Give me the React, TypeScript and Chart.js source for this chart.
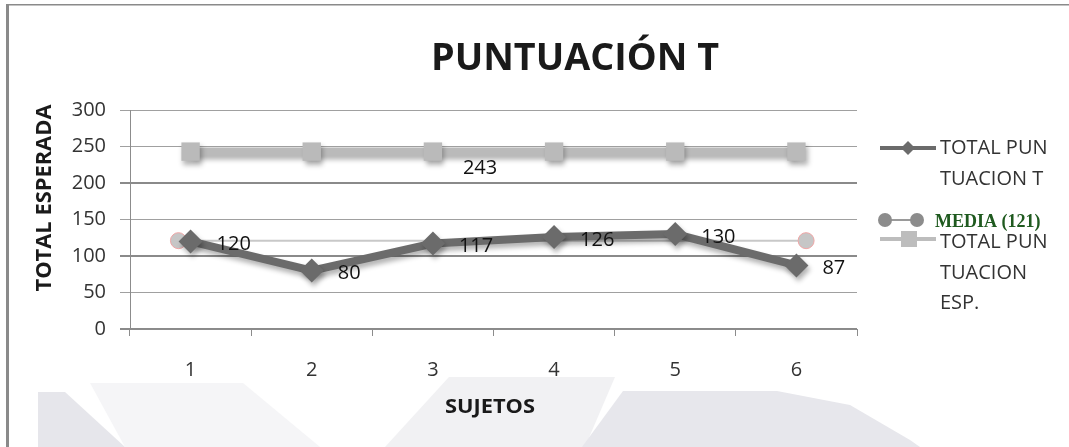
import React, { useEffect, useRef } from "react";
import { Chart, registerables } from "chart.js";

Chart.register(...registerables);

const categories = ["1", "2", "3", "4", "5", "6"];
const totalPuntuacionT = [120, 80, 117, 126, 130, 87];
const totalPuntuacionEsp = [243, 243, 243, 243, 243, 243];
const mediaPositions = [0.9, 6.08];
const mediaValue = 121;
const yTicks = [0, 50, 100, 150, 200, 250, 300];
const titleText = "PUNTUACIÓN T";
const yTitle = "TOTAL ESPERADA";
const xTitle = "SUJETOS";
const legendT = ["TOTAL PUN", "TUACION T"];
const legendMedia = "MEDIA (121)";
const legendEsp = ["TOTAL PUN", "TUACION", "ESP."];

const SANS = "'Open Sans', 'DejaVu Sans', sans-serif";

const decorPlugin = {
  id: "decor",
  beforeDraw(chart: any) {
    const ctx = chart.ctx;
    ctx.save();
    ctx.fillStyle = "#ffffff";
    ctx.fillRect(0, 0, chart.width, chart.height);
    const polys: [string, number[][]][] = [
      ["#e6e6eb", [[38, 392], [65, 392], [125, 447], [38, 447]]],
      ["#f5f5f7", [[90, 383], [243, 383], [320, 447], [125, 447]]],
      ["#f1f1f3", [[449, 377], [615, 377], [585, 447], [385, 447]]],
      ["#e7e7ec", [[623, 391], [777, 391], [850, 405], [910, 440], [920, 447], [582, 447]]],
    ];
    for (const [c, pts] of polys) {
      ctx.fillStyle = c;
      ctx.beginPath();
      pts.forEach((p, i) => (i ? ctx.lineTo(p[0], p[1]) : ctx.moveTo(p[0], p[1])));
      ctx.closePath();
      ctx.fill();
    }
    ctx.fillStyle = "#8a8a8a";
    ctx.fillRect(6, 4, chart.width - 6, 1.5);
    ctx.fillRect(6, 4, 3, chart.height - 4);
    ctx.restore();
  },
  beforeDatasetDraw(chart: any, args: any) {
    const ctx = chart.ctx;
    ctx.save();
    if (args.index !== 1) {
      ctx.shadowColor = "rgba(0,0,0,0.3)";
      ctx.shadowBlur = 5;
      ctx.shadowOffsetX = 2;
      ctx.shadowOffsetY = 4;
    }
  },
  afterDatasetDraw(chart: any) {
    chart.ctx.restore();
  },
  afterDraw(chart: any) {
    const ctx = chart.ctx;
    ctx.save();
    // Title
    ctx.fillStyle = "#1a1a1a";
    ctx.font = `bold 38px ${SANS}`;
    ctx.textBaseline = "alphabetic";
    const w = ctx.measureText(titleText).width;
    ctx.save();
    ctx.translate(431, 70);
    ctx.scale(288 / w, 1);
    ctx.textAlign = "left";
    ctx.fillText(titleText, 0, 0);
    ctx.restore();

    // Y title
    ctx.save();
    ctx.font = `bold 21px ${SANS}`;
    const wy = ctx.measureText(yTitle).width;
    ctx.translate(45, 198);
    ctx.rotate(-Math.PI / 2);
    ctx.scale(187 / wy, 1);
    ctx.textAlign = "center";
    ctx.textBaseline = "middle";
    ctx.fillText(yTitle, 0, 0);
    ctx.restore();

    // X title
    ctx.save();
    ctx.font = `bold 19px ${SANS}`;
    const wx = ctx.measureText(xTitle).width;
    ctx.translate(490, 408);
    ctx.scale(90 / wx, 1);
    ctx.textAlign = "center";
    ctx.textBaseline = "middle";
    ctx.fillText(xTitle, 0, 0);
    ctx.restore();

    // Data labels
    ctx.font = `20px ${SANS}`;
    ctx.fillStyle = "#111111";
    ctx.textAlign = "left";
    ctx.textBaseline = "middle";
    const m0 = chart.getDatasetMeta(0);
    m0.data.forEach((pt: any, i: number) => {
      ctx.fillText(String(totalPuntuacionT[i]), pt.x + 26, pt.y + 3);
    });
    const m2 = chart.getDatasetMeta(2);
    const p3 = m2.data[2];
    ctx.fillText(String(totalPuntuacionEsp[2]), p3.x + 30, p3.y + 17);

    // Legend
    ctx.font = `20px ${SANS}`;
    ctx.strokeStyle = "#6b6b6b";
    ctx.lineWidth = 4;
    ctx.beginPath();
    ctx.moveTo(880, 148);
    ctx.lineTo(936, 148);
    ctx.stroke();
    ctx.fillStyle = "#6b6b6b";
    ctx.beginPath();
    ctx.moveTo(908, 141);
    ctx.lineTo(915, 148);
    ctx.lineTo(908, 155);
    ctx.lineTo(901, 148);
    ctx.closePath();
    ctx.fill();
    ctx.fillStyle = "#333333";
    ctx.fillText(legendT[0], 940, 148);
    ctx.fillText(legendT[1], 940, 179);
    // media
    ctx.strokeStyle = "#9a9a9a";
    ctx.lineWidth = 2;
    ctx.beginPath();
    ctx.moveTo(885, 220);
    ctx.lineTo(917, 220);
    ctx.stroke();
    ctx.fillStyle = "#8c8c8c";
    [885, 917].forEach((cx) => {
      ctx.beginPath();
      ctx.arc(cx, 220, 7, 0, Math.PI * 2);
      ctx.fill();
    });
    // esp
    ctx.strokeStyle = "#bdbdbd";
    ctx.lineWidth = 4;
    ctx.beginPath();
    ctx.moveTo(880, 239);
    ctx.lineTo(936, 239);
    ctx.stroke();
    ctx.fillStyle = "#bdbdbd";
    ctx.fillRect(901, 231, 16, 16);
    ctx.fillStyle = "#333333";
    ctx.fillText(legendEsp[0], 940, 242);
    ctx.fillText(legendEsp[1], 940, 273);
    ctx.fillText(legendEsp[2], 940, 303);
    ctx.fillStyle = "#1f5a1f";
    ctx.font = `bold 18px 'Liberation Serif', 'DejaVu Serif', serif`;
    ctx.fillText(legendMedia, 935, 222);
    ctx.restore();
  },
};

export default function App() {
  const ref = useRef<HTMLCanvasElement | null>(null);
  useEffect(() => {
    if (!ref.current) return;
    const chart = new Chart(ref.current, {
      type: "line",
      data: {
        labels: categories,
        datasets: [
          {
            label: legendT.join(""),
            data: totalPuntuacionT,
            borderColor: "#6b6b6b",
            backgroundColor: "#6b6b6b",
            borderWidth: 8,
            pointStyle: "rectRot",
            pointRadius: 12,
            pointBorderWidth: 0,
            tension: 0,
            order: 1,
          },
          {
            label: legendMedia,
            xAxisID: "x2",
            data: mediaPositions.map((x) => ({ x, y: mediaValue })),
            borderColor: "#c8c8c8",
            backgroundColor: "#c6c6c6",
            borderWidth: 2,
            pointStyle: "circle",
            pointRadius: 8,
            pointBorderColor: "#f0a6a6",
            pointBorderWidth: 1,
            order: 2,
          } as any,
          {
            label: legendEsp.join(""),
            data: totalPuntuacionEsp,
            borderColor: "#bababa",
            backgroundColor: "#bababa",
            borderWidth: 8,
            pointStyle: "rect",
            pointRadius: 13,
            pointBorderWidth: 0,
            order: 3,
          },
        ],
      },
      options: {
        animation: false,
        responsive: false,
        events: [],
        layout: { padding: { top: 110, left: 0, right: 212, bottom: 0 } },
        plugins: { legend: { display: false }, title: { display: false }, tooltip: { enabled: false } },
        scales: {
          x: {
            type: "category",
            offset: true,
            afterFit: (s: any) => {
              s.height = 118;
            },
            grid: {
              offset: true,
              drawOnChartArea: false,
              drawTicks: true,
              tickLength: 7,
              color: "#8c8c8c",
            },
            border: { display: true, color: "#8c8c8c" },
            ticks: { color: "#333333", font: { family: SANS, size: 20 }, padding: 22 },
          },
          x2: {
            type: "linear",
            min: 0.5,
            max: 6.5,
            display: false,
          },
          y: {
            min: 0,
            max: 300,
            afterFit: (s: any) => {
              s.width = 130;
            },
            afterBuildTicks: (s: any) => {
              s.ticks = yTicks.map((v) => ({ value: v }));
            },
            grid: {
              color: (c: any) => ([0, 100, 200].includes(c.tick?.value) ? "#8a8a8a" : "#a0a0a0"),
              lineWidth: (c: any) => ([0, 100, 200].includes(c.tick?.value) ? 2 : 1),
              tickLength: 10,
            },
            border: { display: true, color: "#8c8c8c" },
            ticks: { color: "#333333", font: { family: SANS, size: 20 }, padding: 14 },
          },
        },
      },
      plugins: [decorPlugin],
    } as any);
    return () => chart.destroy();
  }, []);
  return (
    <div style={{ position: "absolute", left: 0, top: 0, width: 1069, height: 447 }}>
      <canvas ref={ref} width={1069} height={447} style={{ display: "block" }} />
    </div>
  );
}
